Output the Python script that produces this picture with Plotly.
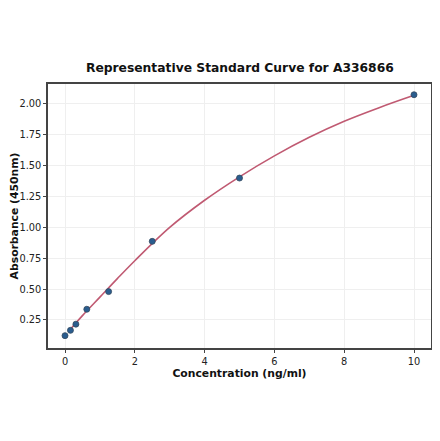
import plotly.graph_objects as go

conc = [0, 0.156, 0.3125, 0.625, 1.25, 2.5, 5, 10]
absorb = [0.123, 0.166, 0.216, 0.337, 0.48, 0.887, 1.40, 2.075]

curve_x = [0.156, 0.5, 1, 1.5, 2, 3, 4, 5, 6, 7, 8, 9, 10]
curve_y = [0.175, 0.285, 0.435, 0.585, 0.73, 1.0, 1.22, 1.41, 1.58, 1.73, 1.86, 1.97, 2.07]

fig = go.Figure()
fig.add_trace(go.Scatter(x=curve_x, y=curve_y, mode="lines",
                         line=dict(color="#c05a72", width=1.6, shape="spline"),
                         showlegend=False, hoverinfo="skip"))
fig.add_trace(go.Scatter(x=conc, y=absorb, mode="markers",
                         marker=dict(color="#2a5d8f", size=6,
                                     line=dict(color="#34495e", width=0.8)),
                         showlegend=False))

font = "DejaVu Sans, sans-serif"
fig.update_layout(
    width=440, height=441,
    margin=dict(l=40, r=17, t=76, b=101, autoexpand=False),
    paper_bgcolor="white", plot_bgcolor="white",
    font=dict(family=font, size=10, color="#222"),
    title=dict(text="<b>Representative Standard Curve for A336866</b>",
               x=0.527, xanchor="center", y=0.864, yanchor="middle",
               font=dict(family=font, size=12.3, color="#111")),
)
fig.update_xaxes(range=[-0.487, 10.487], tickvals=[0, 2, 4, 6, 8, 10],
                 showgrid=True, gridcolor="#efefef", gridwidth=0.6,
                 zeroline=False, showline=True, linecolor="#444", linewidth=1.5,
                 mirror=True, ticks="outside", ticklen=3, tickcolor="#444",
                 tickfont=dict(size=9.8, color="#222"), automargin=False,
                 title=dict(text="<b>Concentration (ng/ml)</b>", standoff=1,
                            font=dict(size=10.8, color="#111")))
fig.update_yaxes(range=[0.023, 2.162], tickvals=[0.25, 0.5, 0.75, 1.0, 1.25, 1.5, 1.75, 2.0],
                 ticktext=["0.25", "0.50", "0.75", "1.00", "1.25", "1.50", "1.75", "2.00"],
                 showgrid=True, gridcolor="#efefef", gridwidth=0.6,
                 zeroline=False, showline=True, linecolor="#444", linewidth=1.5,
                 mirror=True, ticks="outside", ticklen=3, tickcolor="#444",
                 tickfont=dict(size=9.8, color="#222"), automargin=False,
                 title=dict(text="<b>Absorbance (450nm)</b>", standoff=4,
                            font=dict(size=10.8, color="#111")))

fig.write_html("out.html")
